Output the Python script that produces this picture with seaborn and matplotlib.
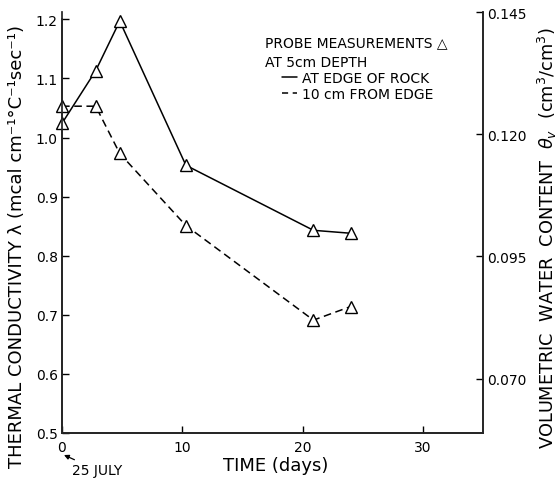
import matplotlib
matplotlib.use("Agg")
import matplotlib.pyplot as plt
import seaborn as sns
import pandas as pd

# Probe measurements at 5 cm depth
days = [0, 2.8, 4.8, 10.3, 20.9, 24.0]
edge_of_rock = [1.024, 1.113, 1.197, 0.953, 0.843, 0.838]
from_edge_10cm = [1.053, 1.053, 0.973, 0.851, 0.691, 0.714]

x_ticks = [0, 10, 20, 30]
left_ticks = [0.5, 0.6, 0.7, 0.8, 0.9, 1.0, 1.1, 1.2]
left_labels = ["0.5", "0.6", "0.7", "0.8", "0.9", "1.0", "1.1", "1.2"]
right_ticks = [0.070, 0.095, 0.120, 0.145]
right_labels = ["0.070", "0.095", "0.120", "0.145"]

sns.set_theme(style="ticks")
plt.rcParams["font.family"] = ["DejaVu Sans"]
plt.rcParams["text.color"] = "black"

fig = plt.figure(figsize=(5.58, 4.81), dpi=100)
ax = fig.add_axes([62 / 558, 47 / 481, 421 / 558, 421 / 481])

df_edge = pd.DataFrame({"day": days, "k": edge_of_rock})
df_far = pd.DataFrame({"day": days, "k": from_edge_10cm})

common = dict(color="black", marker="^", markersize=9, markerfacecolor="white",
              markeredgecolor="black", markeredgewidth=1.0, linewidth=1.1,
              clip_on=False, zorder=3)
sns.lineplot(data=df_edge, x="day", y="k", ax=ax, linestyle="-", **common)
sns.lineplot(data=df_far, x="day", y="k", ax=ax, linestyle=(0, (5, 3)), **common)

ax.set_xlim(0, 35)
ax.set_ylim(0.5, 1.2124)
ax.set_xticks(x_ticks)
ax.set_xticklabels([str(t) for t in x_ticks])
ax.set_yticks(left_ticks)
ax.set_yticklabels(left_labels)
ax.spines["top"].set_visible(False)
ax.spines["left"].set_bounds(0.5, 1.2)
for s in ["left", "bottom", "right"]:
    ax.spines[s].set_linewidth(1.1)
    ax.spines[s].set_color("black")
ax.tick_params(axis="both", direction="in", length=5, width=1.0,
               labelsize=10, colors="black", pad=3)
ax.tick_params(axis="x", pad=5)
ax.set_xlabel("")
ax.set_ylabel("")

ax2 = ax.twinx()
ax2.set_ylim(0.0589, 0.145)
ax2.set_yticks(right_ticks)
ax2.set_yticklabels(right_labels)
ax2.spines["top"].set_visible(False)
ax2.spines["right"].set_linewidth(1.1)
ax2.tick_params(axis="y", direction="in", length=5, width=1.0,
                labelsize=10, colors="black", pad=3)
ax2.set_ylabel("")

# Axis titles
fig.text(276 / 558, 1 - 466 / 481, "TIME (days)", fontsize=13, ha="center", va="center")
fig.text(17 / 558, 1 - 247 / 481, "THERMAL CONDUCTIVITY λ (mcal cm⁻¹°C⁻¹sec⁻¹)",
         fontsize=13, rotation=90, ha="center", va="center")
fig.text(547 / 558, 1 - 238 / 481,
         r"VOLUMETRIC  WATER  CONTENT  $\theta_v$  (cm$^3$/cm$^3$)",
         fontsize=12.8, rotation=90, ha="center", va="center")

# Key text
tf = fig.transFigure
fig.text(265 / 558, 1 - 43 / 481, "PROBE MEASUREMENTS △", fontsize=10, va="center", ha="left")
fig.text(265 / 558, 1 - 63 / 481, "AT 5cm DEPTH", fontsize=10, va="center", ha="left")
fig.text(302 / 558, 1 - 79 / 481, "AT EDGE OF ROCK", fontsize=10, va="center", ha="left")
fig.text(302 / 558, 1 - 95 / 481, "10 cm FROM EDGE", fontsize=10, va="center", ha="left")
fig.add_artist(plt.Line2D([282 / 558, 297 / 558], [1 - 78 / 481, 1 - 78 / 481],
                          transform=tf, color="black", linewidth=1.1))
fig.add_artist(plt.Line2D([282 / 558, 297 / 558], [1 - 94 / 481, 1 - 94 / 481],
                          transform=tf, color="black", linewidth=1.1,
                          linestyle=(0, (4, 3))))

# Start date marker
ax.annotate("25 JULY", xy=(64 / 558, 1 - 456 / 481), xycoords="figure fraction",
            xytext=(72 / 558, 1 - 471 / 481), textcoords="figure fraction",
            fontsize=10, va="center", ha="left",
            arrowprops=dict(arrowstyle="-|>", color="black", lw=0.9,
                            mutation_scale=7, shrinkA=0, shrinkB=0))

fig.savefig("out.png", dpi=100)
